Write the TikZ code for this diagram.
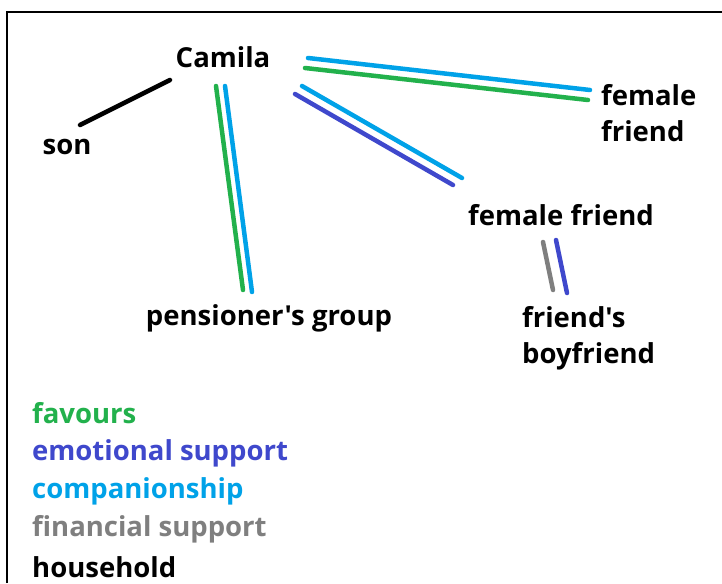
\documentclass[tikz,border=0pt]{standalone}
\usepackage{fontspec}
\setmainfont{Open Sans}[Ligatures=TeXOff]
\begin{document}
\begin{tikzpicture}[x=1pt,y=-1pt,
  lbl/.style={font=\bfseries\fontsize{27.5}{36}\selectfont, inner sep=0pt, text=black},
  leg/.style={font=\bfseries\fontsize{27.5}{36}\selectfont, inner sep=0pt, anchor=west},
  tie/.style={line width=4.5pt, line cap=round}]
\definecolor{favc}{HTML}{22B14C}
\definecolor{emoc}{HTML}{3F48CC}
\definecolor{comc}{HTML}{00A2E8}
\definecolor{finc}{HTML}{7F7F7F}
\useasboundingbox (0,0) rectangle (722,583);
\fill[white] (0,0) rectangle (722,583);
% frame: left and top edges only
\draw[line width=2pt] (7,583) -- (7,12) -- (722,12);

% people
\node[lbl] (camila) at (223,57) {Camila};
\node[lbl] (son) at (67,147) {son};
\node[lbl, align=left, anchor=west] (ffa) at (601,113) {female\\friend};
\node[lbl] (ffb) at (561,215) {female friend};
\node[lbl] (pens) at (269,318) {pensioner's group};
\node[lbl, align=left, anchor=west] (bf) at (522,338) {friend's\\boyfriend};

% connector end points
\coordinate (son-a) at (80,125);   \coordinate (son-b) at (170,80);
\coordinate (pg-a) at (216,86);    \coordinate (pg-b) at (243,290);
\coordinate (pc-a) at (225,86);    \coordinate (pc-b) at (252,292);
\coordinate (fc-a) at (308,58);    \coordinate (fc-b) at (590,90);
\coordinate (fg-a) at (305,68);    \coordinate (fg-b) at (588,100);
\coordinate (mc-a) at (302,86);    \coordinate (mc-b) at (462,178);
\coordinate (me-a) at (295,94);    \coordinate (me-b) at (453,185);
\coordinate (bg-a) at (543,242);   \coordinate (bg-b) at (553,290);
\coordinate (be-a) at (556,240);   \coordinate (be-b) at (567,293);

% ties
\draw[tie, black] (son-a) -- (son-b);
\draw[tie, favc] (pg-a) -- (pg-b);
\draw[tie, comc] (pc-a) -- (pc-b);
\draw[tie, comc] (fc-a) -- (fc-b);
\draw[tie, favc] (fg-a) -- (fg-b);
\draw[tie, comc] (mc-a) -- (mc-b);
\draw[tie, emoc] (me-a) -- (me-b);
\draw[tie, finc] (bg-a) -- (bg-b);
\draw[tie, emoc] (be-a) -- (be-b);

% legend
\node[leg, text=favc] (l1) at (32,413) {favours};
\node[leg, text=emoc] (l2) at (32,453) {emotional support};
\node[leg, text=comc] (l3) at (32,491) {companionship};
\node[leg, text=finc] (l4) at (32,529) {financial support};
\node[leg, text=black] (l5) at (32,567) {household};
\end{tikzpicture}
\end{document}
